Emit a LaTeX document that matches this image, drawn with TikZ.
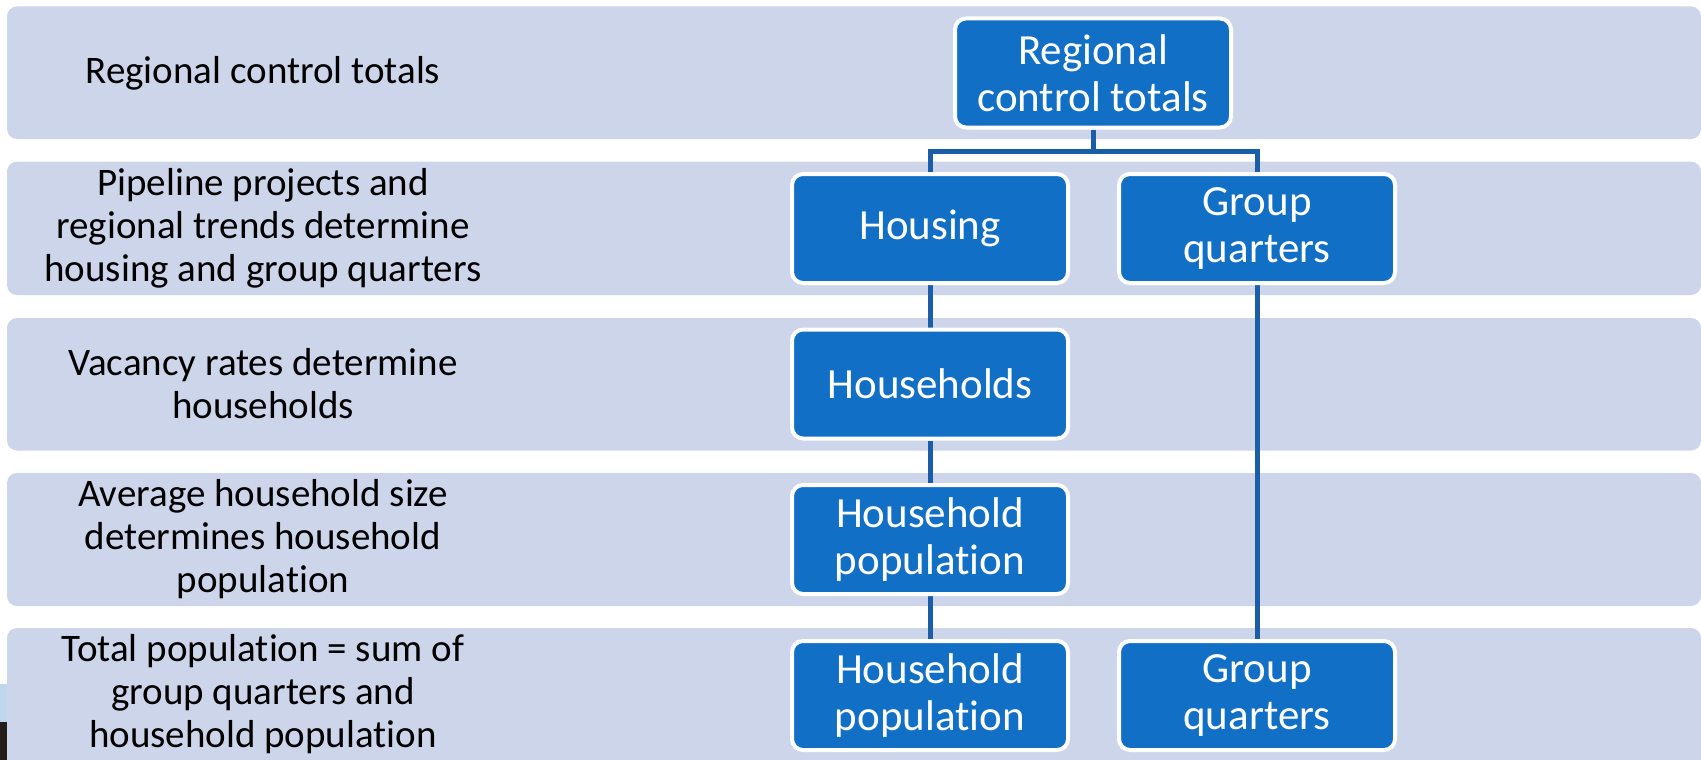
\documentclass[tikz,border=0pt]{standalone}
\usepackage{fontspec}
\setmainfont{Carlito}[Ligatures=NoCommon]
\usetikzlibrary{backgrounds}
\definecolor{bandc}{RGB}{205,213,234}
\definecolor{boxc}{RGB}{17,112,198}
\definecolor{linec}{RGB}{26,94,168}
\definecolor{photoa}{RGB}{190,215,238}
\definecolor{photob}{RGB}{35,28,25}
\begin{document}
\begin{tikzpicture}[x=1pt,y=-1pt,
  band/.style={fill=bandc, rounded corners=10pt},
  lab/.style={align=center, font=\fontsize{39}{43}\selectfont, text=black, inner sep=0pt},
  boxn/.style={draw=white, line width=4pt, fill=boxc, rounded corners=11pt,
    minimum width=276pt, minimum height=109pt, align=center, text=white,
    font=\fontsize{43}{47}\selectfont, inner sep=0pt},
  conn/.style={draw=linec, line width=5pt}]
\useasboundingbox (0,0) rectangle (1701,760);
\begin{pgfonlayer}{background}
\fill[white] (0,0) rectangle (1701,760);
\fill[band] (7,6.5) rectangle (1701,139);
\fill[band] (7,161.7) rectangle (1701,295);
\fill[band] (7,318) rectangle (1701,450.5);
\fill[band] (7,473) rectangle (1701,606);
\fill[band] (7,628) rectangle (1701,775);
\fill[photoa] (0,684) rectangle (7,722);
\fill[photob] (0,722) rectangle (7,760);
\end{pgfonlayer}
% left labels
\node[lab] (t1) at (263,73) {Regional control totals};
\node[lab] (t2) at (263,228.5) {Pipeline projects and\\regional trends determine\\housing and group quarters};
\node[lab] (t3) at (263,384) {Vacancy rates determine\\households};
\node[lab] (t4) at (263,539.5) {Average household size\\determines household\\population};
\node[lab] (t5) at (263,694.5) {Total population = sum of\\group quarters and\\household population};
% boxes
\node[boxn] (reg) at (1093,73) {Regional\\control totals};
\node[boxn] (hous) at (930,228.5) {Housing};
\node[boxn] (gq1) at (1257,228.5) {Group\\quarters};
\node[boxn] (hh) at (930,384) {Households};
\node[boxn] (hp1) at (930,539.5) {Household\\population};
\node[boxn] (hp2) at (930,695.5) {Household\\population};
\node[boxn] (gq2) at (1257,695.5) {Group\\quarters};
\coordinate (j) at (1093,151);
\begin{pgfonlayer}{background}
\draw[conn] (hous.north) |- (j) -| (gq1.north);
\draw[conn] (reg.south) -- (j);
\draw[conn] (hous) -- (hh);
\draw[conn] (hh) -- (hp1);
\draw[conn] (hp1) -- (hp2);
\draw[conn] (gq1) -- (gq2);
\end{pgfonlayer}
\end{tikzpicture}
\end{document}
